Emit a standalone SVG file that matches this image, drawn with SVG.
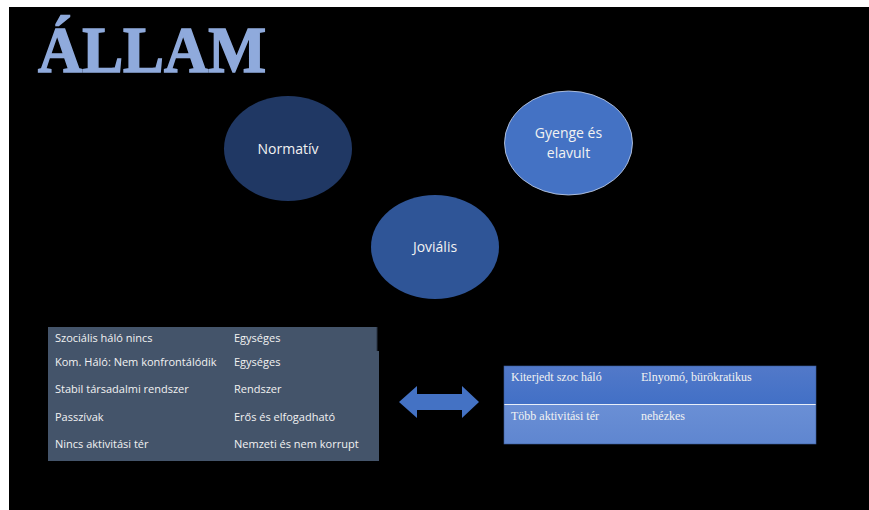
<svg xmlns="http://www.w3.org/2000/svg" width="869" height="510" viewBox="0 0 869 510">
<defs>
<style>
.ell{stroke:none}
.et{font-family:"Open Sans","Liberation Sans",sans-serif;font-size:14px;fill:#f2f2f2;text-anchor:middle}
.lt{font-family:"Open Sans","Liberation Sans",sans-serif;font-size:11px;fill:#f2f2f2}
.rt{font-family:"Liberation Serif",serif;font-size:12px;fill:#f2f2f2}
</style>
<linearGradient id="g1" x1="0" y1="0" x2="0" y2="1">
<stop offset="0" stop-color="#5279c9"/><stop offset="1" stop-color="#4270c6"/>
</linearGradient>
<linearGradient id="g2" x1="0" y1="0" x2="0" y2="1">
<stop offset="0" stop-color="#6a8fd5"/><stop offset="1" stop-color="#5f86d0"/>
</linearGradient>
</defs>
<rect x="0" y="0" width="869" height="510" fill="#ffffff"/>
<rect x="9" y="7" width="860" height="503" fill="#000000"/>
<text x="38" y="72" font-family="Liberation Serif,serif" font-weight="bold" font-size="65" fill="#8faadc" stroke="#8faadc" stroke-width="1.6" textLength="228" lengthAdjust="spacingAndGlyphs">ÁLLAM</text>
<g id="normativ">
<ellipse class="ell" cx="288" cy="148.5" rx="64" ry="52.5" fill="#203864"/>
<text class="et" x="288" y="154">Normatív</text>
</g>
<g id="gyenge">
<ellipse cx="568.5" cy="143" rx="64" ry="52" fill="#4472c4" stroke="#c9d6ee" stroke-width="0.8"/>
<text class="et" x="568.5" y="138">Gyenge és</text>
<text class="et" x="568.5" y="158">elavult</text>
</g>
<g id="jovialis">
<ellipse class="ell" cx="435" cy="247" rx="64" ry="52" fill="#2f5597"/>
<text class="et" x="435" y="252">Joviális</text>
</g>
<g id="left-table">
<rect x="48" y="327" width="329" height="24" fill="#44546a"/>
<rect x="48" y="351" width="331" height="110" fill="#44546a"/>
<line x1="377" y1="327" x2="377" y2="351" stroke="#2a3444" stroke-width="1"/>
<text class="lt" x="55" y="342">Szociális háló nincs</text>
<text class="lt" x="234" y="342">Egységes</text>
<text class="lt" x="55" y="366">Kom. Háló: Nem konfrontálódik</text>
<text class="lt" x="234" y="366">Egységes</text>
<text class="lt" x="55" y="393">Stabil társadalmi rendszer</text>
<text class="lt" x="234" y="393">Rendszer</text>
<text class="lt" x="55" y="421">Passzívak</text>
<text class="lt" x="234" y="421">Erős és elfogadható</text>
<text class="lt" x="55" y="448">Nincs aktivitási tér</text>
<text class="lt" x="234" y="448">Nemzeti és nem korrupt</text>
</g>
<g id="connectors">
<polygon points="399,402 417,386 417,394 462,394 462,386 479,402 462,418 462,410 417,410 417,418" fill="#4472c4"/>
</g>
<g id="right-table">
<rect x="504" y="366" width="312" height="38" fill="url(#g1)"/>
<rect x="504" y="405" width="312" height="39" fill="url(#g2)"/>
<line x1="504" y1="404.5" x2="816" y2="404.5" stroke="#e8eef8" stroke-width="1.2"/>
<rect x="504" y="366" width="312" height="78" fill="none" stroke="#3a5a9a" stroke-width="0.6"/>
<text class="rt" x="511" y="381">Kiterjedt szoc háló</text>
<text class="rt" x="641" y="381">Elnyomó, bürökratikus</text>
<text class="rt" x="511" y="420">Több aktivitási tér</text>
<text class="rt" x="641" y="420">nehézkes</text>
</g>
</svg>
